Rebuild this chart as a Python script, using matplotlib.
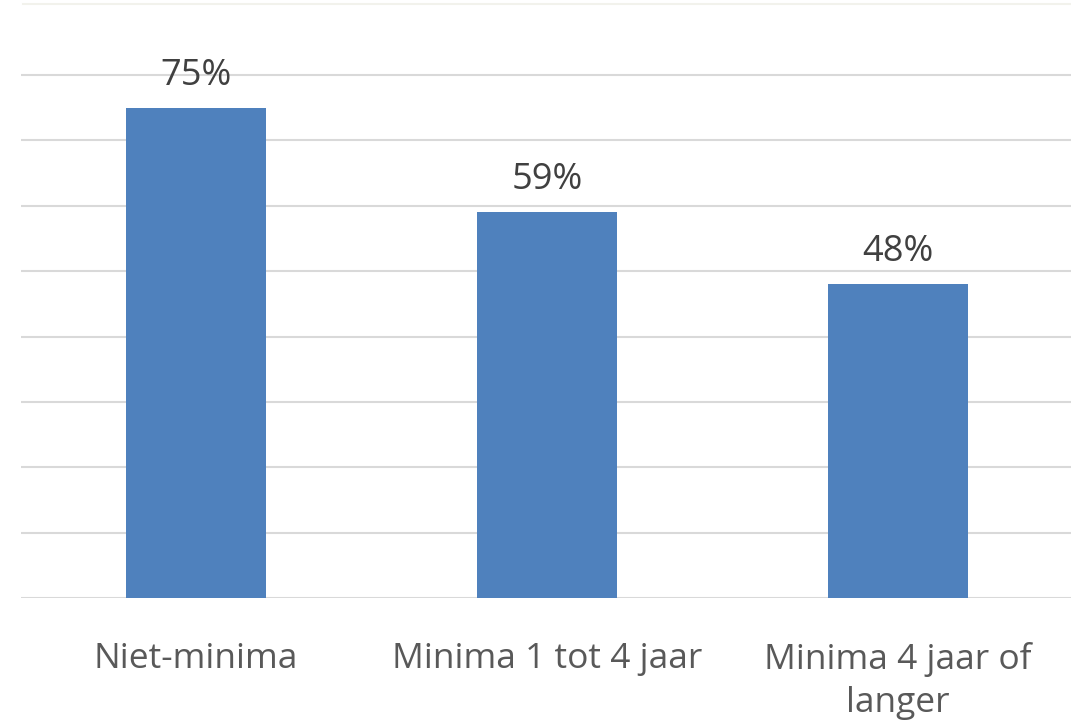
import matplotlib.pyplot as plt
from matplotlib.lines import Line2D

categories = ["Niet-minima", "Minima 1 tot 4 jaar", "Minima 4 jaar of\nlanger"]
values = [0.75, 0.59, 0.48]
labels = ["75%", "59%", "48%"]

plt.rcParams["font.family"] = ["Open Sans", "DejaVu Sans"]

W, H = 1071, 726
fig = plt.figure(figsize=(W / 100, H / 100), dpi=100)
# plot area in pixels: x 20.5..1073.5, y (top) 9.7..598
ax = fig.add_axes([20.5 / W, 1 - 598 / H, 1053 / W, (598 - 9.7) / H])

x = range(len(categories))
ax.bar(x, values, width=0.4, color="#4f81bd", zorder=3)
for xi, v, lab in zip(x, values, labels):
    ax.annotate(lab, (xi, v), xytext=(0, 10), textcoords="offset points",
                ha="center", va="bottom", fontsize=26, color="#404040")

ax.set_xlim(-0.5, 2.5)
ax.set_ylim(0, 0.9)
ax.set_yticks([i / 10 for i in range(0, 9)])
ax.yaxis.grid(True, color="#d9d9d9", linewidth=1.5, zorder=0)
ax.tick_params(axis="y", left=False, labelleft=False)
ax.tick_params(axis="x", bottom=False, pad=28)
ax.set_xticks(list(x))
ax.set_xticklabels(categories, fontsize=25.5, color="#595959", linespacing=1.35)
for s in ax.spines.values():
    s.set_visible(False)

# faint chart border at the top
fig.add_artist(Line2D([23 / W, 1], [1 - 4 / H, 1 - 4 / H], color="#f2f2ec",
                      linewidth=1.5, transform=fig.transFigure))

fig.savefig("out.png", dpi=100)
